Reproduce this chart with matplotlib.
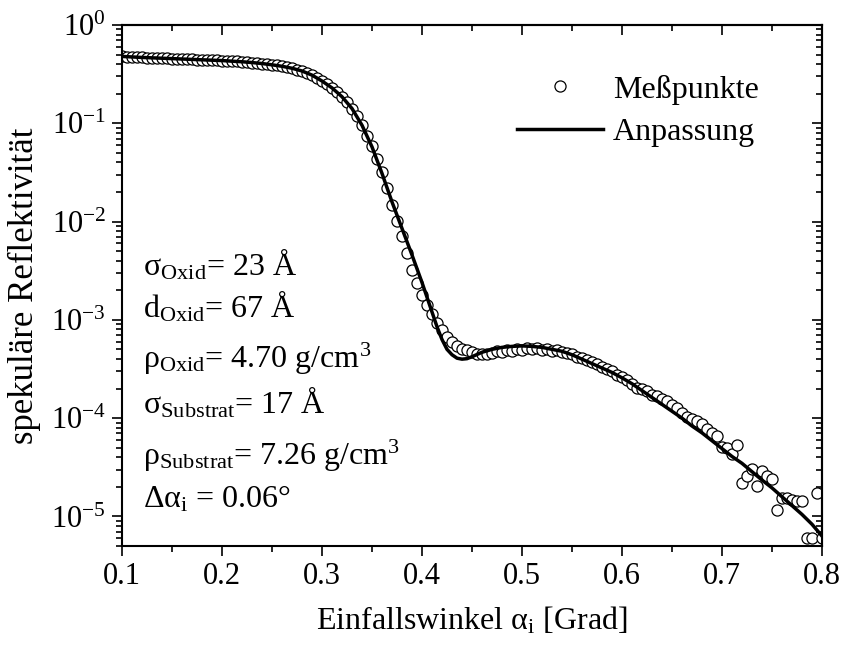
import numpy as np
import matplotlib
matplotlib.use("Agg")
import matplotlib.pyplot as plt
from matplotlib.ticker import LogLocator, MultipleLocator, FixedLocator, NullFormatter

plt.rcParams["font.family"] = ["Liberation Serif", "DejaVu Serif"]
plt.rcParams["mathtext.fontset"] = "custom"
plt.rcParams["mathtext.rm"] = "Liberation Serif"
plt.rcParams["mathtext.it"] = "Liberation Serif:italic"
plt.rcParams["mathtext.bf"] = "Liberation Serif:bold"
plt.rcParams["axes.unicode_minus"] = False

# Measured specular reflectivity: incidence angle [deg] and log10(R)
meas_angle = [
    0.100, 0.105, 0.110, 0.115, 0.120, 0.125, 0.130, 0.135, 0.140, 0.145,
    0.150, 0.155, 0.160, 0.165, 0.170, 0.175, 0.180, 0.185, 0.190, 0.195,
    0.200, 0.205, 0.210, 0.215, 0.220, 0.225, 0.230, 0.235, 0.240, 0.245,
    0.250, 0.255, 0.260, 0.265, 0.270, 0.275, 0.280, 0.285, 0.290, 0.295,
    0.300, 0.305, 0.310, 0.315, 0.320, 0.325, 0.330, 0.335, 0.340, 0.345,
    0.350, 0.355, 0.360, 0.365, 0.370, 0.375, 0.380, 0.385, 0.390, 0.395,
    0.400, 0.405, 0.410, 0.415, 0.420, 0.425, 0.430, 0.435, 0.440, 0.445,
    0.450, 0.455, 0.460, 0.465, 0.470, 0.475, 0.480, 0.485, 0.490, 0.495,
    0.500, 0.505, 0.510, 0.515, 0.520, 0.525, 0.530, 0.535, 0.540, 0.545,
    0.550, 0.555, 0.560, 0.565, 0.570, 0.575, 0.580, 0.585, 0.590, 0.595,
    0.600, 0.605, 0.610, 0.615, 0.620, 0.625, 0.630, 0.635, 0.640, 0.645,
    0.650, 0.655, 0.660, 0.665, 0.670, 0.675, 0.680, 0.685, 0.690, 0.695,
    0.700, 0.705, 0.710, 0.715, 0.720, 0.725, 0.730, 0.735, 0.740, 0.745,
    0.750, 0.755, 0.760, 0.765, 0.770, 0.775, 0.780, 0.785, 0.790, 0.795,
    0.800,
]
meas_log10 = [
    -0.318, -0.322, -0.325, -0.327, -0.330, -0.332, -0.334, -0.336, -0.338, -0.340,
    -0.342, -0.344, -0.346, -0.348, -0.350, -0.352, -0.354, -0.356, -0.358, -0.360,
    -0.362, -0.365, -0.368, -0.371, -0.374, -0.378, -0.382, -0.387, -0.392, -0.398,
    -0.405, -0.412, -0.420, -0.430, -0.440, -0.453, -0.468, -0.488, -0.510, -0.538,
    -0.570, -0.603, -0.640, -0.683, -0.730, -0.786, -0.850, -0.930, -1.020, -1.125,
    -1.235, -1.360, -1.500, -1.660, -1.830, -1.990, -2.150, -2.320, -2.490, -2.630,
    -2.750, -2.850, -2.940, -3.030, -3.100, -3.170, -3.225, -3.270, -3.295, -3.310,
    -3.330, -3.345, -3.350, -3.345, -3.335, -3.320, -3.325, -3.310, -3.320, -3.300,
    -3.305, -3.290, -3.300, -3.290, -3.310, -3.300, -3.315, -3.310, -3.330, -3.340,
    -3.350, -3.375, -3.390, -3.410, -3.430, -3.450, -3.475, -3.500, -3.525, -3.560,
    -3.585, -3.615, -3.650, -3.690, -3.700, -3.725, -3.760, -3.775, -3.810, -3.830,
    -3.870, -3.900, -3.950, -3.990, -4.010, -4.030, -4.060, -4.110, -4.150, -4.180,
    -4.290, -4.300, -4.370, -4.270, -4.660, -4.590, -4.520, -4.690, -4.540, -4.590,
    -4.620, -4.930, -4.810, -4.810, -4.830, -4.840, -4.840, -5.220, -5.220, -4.760,
    -5.220,
]

# Fitted model curve: incidence angle [deg] and log10(R)
fit_angle = [
    0.10, 0.11, 0.12, 0.13, 0.14, 0.15, 0.16, 0.17, 0.18, 0.19,
    0.20, 0.21, 0.22, 0.23, 0.24, 0.25, 0.26, 0.27, 0.28, 0.29,
    0.30, 0.31, 0.32, 0.33, 0.34, 0.35, 0.36, 0.37, 0.38, 0.39,
    0.40, 0.41, 0.415, 0.42, 0.425, 0.43, 0.435, 0.44, 0.445, 0.45,
    0.46, 0.47, 0.48, 0.49, 0.50, 0.51, 0.52, 0.53, 0.54, 0.55,
    0.56, 0.57, 0.58, 0.59, 0.60, 0.61, 0.62, 0.63, 0.64, 0.65,
    0.66, 0.67, 0.68, 0.69, 0.70, 0.71, 0.72, 0.73, 0.74, 0.75,
    0.76, 0.77, 0.78, 0.79, 0.80,
]
fit_log10 = [
    -0.320, -0.325, -0.330, -0.334, -0.338, -0.342, -0.346, -0.350, -0.354, -0.358,
    -0.362, -0.368, -0.374, -0.382, -0.392, -0.405, -0.420, -0.440, -0.468, -0.510,
    -0.570, -0.640, -0.730, -0.850, -1.020, -1.240, -1.510, -1.800, -2.070, -2.340,
    -2.620, -2.920, -3.070, -3.200, -3.300, -3.355, -3.390, -3.400, -3.395, -3.375,
    -3.330, -3.300, -3.280, -3.270, -3.265, -3.270, -3.280, -3.300, -3.320, -3.355,
    -3.400, -3.445, -3.490, -3.535, -3.590, -3.650, -3.720, -3.790, -3.860, -3.930,
    -4.000, -4.080, -4.150, -4.230, -4.310, -4.390, -4.460, -4.545, -4.630, -4.710,
    -4.800, -4.890, -4.980, -5.080, -5.200,
]

x_ticks = [0.1, 0.2, 0.3, 0.4, 0.5, 0.6, 0.7, 0.8]
legend_labels = ["Meßpunkte", "Anpassung"]
param_lines = [
    r"$\mathrm{σ}_{\mathrm{Oxid}}$= 23 Å",
    r"$\mathrm{d}_{\mathrm{Oxid}}$= 67 Å",
    r"$\mathrm{ρ}_{\mathrm{Oxid}}$= 4.70 g/cm$^{3}$",
    r"$\mathrm{σ}_{\mathrm{Substrat}}$= 17 Å",
    r"$\mathrm{ρ}_{\mathrm{Substrat}}$= 7.26 g/cm$^{3}$",
    r"$\mathrm{Δα}_{\mathrm{i}}$ = 0.06°",
]
param_baselines_px = [275, 317, 368, 413, 465, 507]

W, H = 845, 648
fig = plt.figure(figsize=(W / 100, H / 100), dpi=100)
ax = fig.add_axes([122 / W, 1 - 546 / H, 700 / W, 521 / H])

meas_R = 10.0 ** np.asarray(meas_log10)
fit_R = 10.0 ** np.asarray(fit_log10)

ax.plot(meas_angle, meas_R, linestyle="none", marker="o", markersize=8.0,
        markerfacecolor="white", markeredgecolor="black", markeredgewidth=0.9,
        label=legend_labels[0], zorder=2)
ax.plot(fit_angle, fit_R, color="black", linewidth=2.5, label=legend_labels[1],
        zorder=3)

ax.set_yscale("log")
ax.set_xlim(0.1, 0.8)
ax.set_ylim(5e-6, 1.0)

ax.xaxis.set_major_locator(FixedLocator(x_ticks))
ax.set_xticklabels([f"{t:.1f}" for t in x_ticks])
ax.xaxis.set_minor_locator(MultipleLocator(0.05))
ax.yaxis.set_major_locator(LogLocator(base=10, numticks=20))
ax.yaxis.set_minor_locator(LogLocator(base=10, subs=np.arange(2, 10), numticks=40))
ax.yaxis.set_minor_formatter(NullFormatter())

for s in ax.spines.values():
    s.set_linewidth(1.5)

ax.tick_params(axis="both", which="major", labelsize=22, width=1.2, length=7.5)
ax.tick_params(axis="both", which="minor", width=1.2, length=4.5)
ax.tick_params(axis="x", which="both", direction="out", bottom=True, top=False)
ax.tick_params(axis="y", which="both", direction="out", left=True, right=False)
ax.tick_params(axis="x", which="major", pad=4)
ax.tick_params(axis="y", which="major", pad=4)

# inward ticks on top and right edges
sec_x = ax.secondary_xaxis("top")
sec_x.xaxis.set_major_locator(FixedLocator(x_ticks))
sec_x.xaxis.set_minor_locator(MultipleLocator(0.05))
sec_x.tick_params(which="major", direction="in", length=7.5, width=1.2, labeltop=False)
sec_x.tick_params(which="minor", direction="in", length=4.5, width=1.2)
sec_x.spines["top"].set_linewidth(1.5)

sec_y = ax.secondary_yaxis("right")
sec_y.yaxis.set_major_locator(LogLocator(base=10, numticks=20))
sec_y.yaxis.set_minor_locator(LogLocator(base=10, subs=np.arange(2, 10), numticks=40))
sec_y.tick_params(which="major", direction="in", length=7.5, width=1.2, labelright=False)
sec_y.tick_params(which="minor", direction="in", length=4.5, width=1.2)
sec_y.spines["right"].set_linewidth(1.5)

ax.set_xlabel(r"Einfallswinkel $\mathrm{α}_{\mathrm{i}}$ [Grad]", fontsize=23, labelpad=10)
ax.set_ylabel("spekuläre Reflektivität", fontsize=25, labelpad=7)

ax.legend(loc="upper left", bbox_to_anchor=(0.564, 0.905), frameon=False,
          fontsize=23, numpoints=1, handlelength=2.7, handletextpad=0.3,
          labelspacing=0.42, borderpad=0.0, borderaxespad=0.0)

for txt, yb in zip(param_lines, param_baselines_px):
    fig.text(143 / W, 1 - yb / H, txt, fontsize=23, ha="left", va="baseline")

fig.savefig("out.png", dpi=100)
